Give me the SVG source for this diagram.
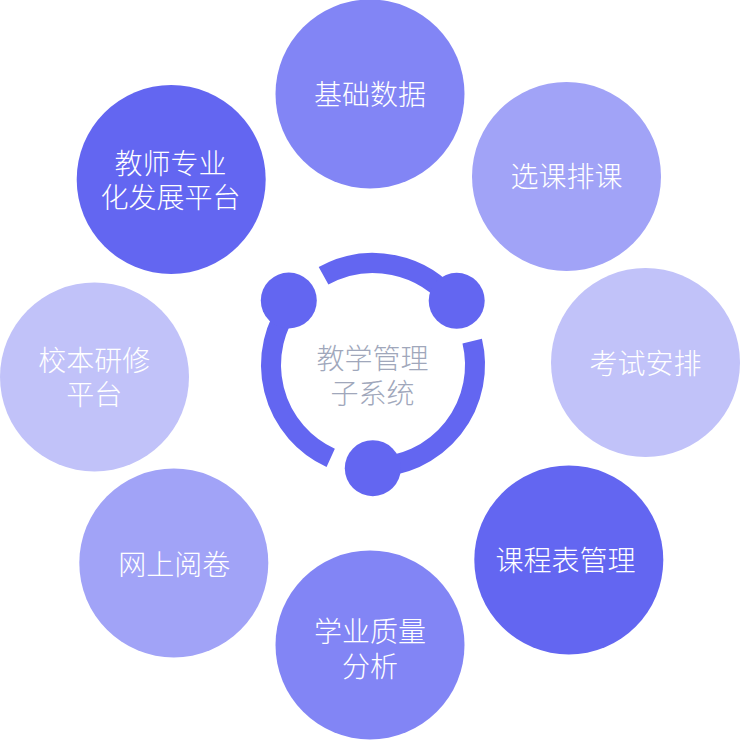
<svg xmlns="http://www.w3.org/2000/svg" width="740" height="740" viewBox="0 0 740 740">
<style>
.lbl{font-family:"Noto Sans CJK SC","Noto Sans",sans-serif;font-size:28px;font-weight:300;fill:#ffffff;text-anchor:middle;dominant-baseline:central}
.ctr{font-family:"Noto Sans CJK SC","Noto Sans",sans-serif;font-size:28px;font-weight:300;fill:#A0A7BB;text-anchor:middle;dominant-baseline:central}
.c100{fill:#6366F1}
.c80{fill:#8285F5}
.c60{fill:#A1A3F7}
.c40{fill:#C1C2F9}
.ring{fill:none;stroke:#6366F1;stroke-width:20;stroke-linecap:butt}
.dot{fill:#6366F1}
</style>
<rect width="740" height="740" fill="#ffffff"/>
<g id="node-jichushuju"><circle class="c80" cx="370" cy="94" r="94.5"/><text class="lbl" x="370" y="93">基础数据</text></g>
<g id="node-xuankepaike"><circle class="c60" cx="566.5" cy="176.5" r="94.5"/><text class="lbl" x="566.5" y="175">选课排课</text></g>
<g id="node-kaoshianpai"><circle class="c40" cx="645.5" cy="362.5" r="94.5"/><text class="lbl" x="645.5" y="362">考试安排</text></g>
<g id="node-kechengbiao"><circle class="c100" cx="568.8" cy="560" r="94.5"/><text class="lbl" x="565.5" y="559">课程表管理</text></g>
<g id="node-xueyezhiliang"><circle class="c80" cx="370" cy="645" r="94.5"/><text class="lbl" x="370" y="630">学业质量<tspan x="370" dy="34.5">分析</tspan></text></g>
<g id="node-wangshangyuejuan"><circle class="c60" cx="173.8" cy="563" r="94.5"/><text class="lbl" x="174.3" y="562.5">网上阅卷</text></g>
<g id="node-xiaobenyanxiu"><circle class="c40" cx="94.5" cy="377" r="94.5"/><text class="lbl" x="94.3" y="359">校本研修<tspan x="94.3" dy="34">平台</tspan></text></g>
<g id="node-jiaoshi"><circle class="c100" cx="171.2" cy="179.5" r="94.5"/><text class="lbl" x="170.5" y="162">教师专业<tspan x="170.5" dy="34">化发展平台</tspan></text></g>
<g id="connectors">
<path class="ring" d="M323.55 275.8 A102 102 0 0 1 453.9 302.9"/>
<path class="ring" d="M472.2 341.2 A102 102 0 0 1 373 467"/>
<path class="ring" d="M330.7 457.8 A102 102 0 0 1 292.1 302.9"/>
<circle class="dot" cx="288.8" cy="300.5" r="28"/>
<circle class="dot" cx="456.7" cy="300.8" r="28"/>
<circle class="dot" cx="372.8" cy="468.2" r="28"/>
</g>
<g id="node-center"><text class="ctr" x="372.5" y="357">教学管理<tspan x="372.5" dy="34.5">子系统</tspan></text></g>
</svg>
